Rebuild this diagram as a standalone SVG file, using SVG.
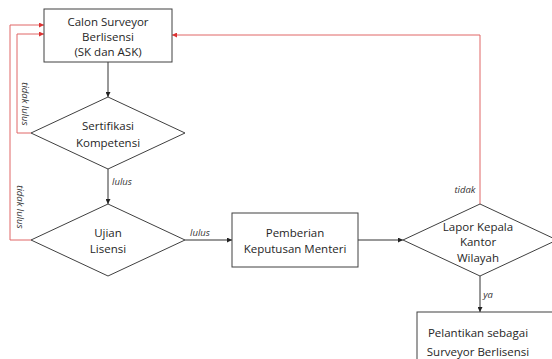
<svg xmlns="http://www.w3.org/2000/svg" width="552" height="359" viewBox="0 0 552 359">
<style>
.box{fill:#fff;stroke:#404040;stroke-width:1}
.t{font-family:"Open Sans","Liberation Sans",sans-serif;font-size:11.5px;fill:#262626;text-anchor:middle}
.l{font-family:"Open Sans","Liberation Sans",sans-serif;font-size:9.5px;font-style:italic;fill:#333}
.k{fill:none;stroke:#333;stroke-width:1}
.r{fill:none;stroke:#e06666;stroke-width:1}
</style>
<defs>
<marker id="ab" viewBox="0 0 6 6" refX="6" refY="3" markerWidth="5" markerHeight="5" orient="auto"><path d="M0,0 L6,3 L0,6 z" fill="#222"/></marker>
<marker id="ar" viewBox="0 0 6 6" refX="6" refY="3" markerWidth="5" markerHeight="5" orient="auto"><path d="M0,0 L6,3 L0,6 z" fill="#d33"/></marker>
</defs>
<g id="connectors">
<path class="k" d="M108,62 V97" marker-end="url(#ab)"/>
<path class="k" d="M108,169 V204" marker-end="url(#ab)"/>
<path class="k" d="M185,240 H232" marker-end="url(#ab)"/>
<path class="k" d="M358,240 H403" marker-end="url(#ab)"/>
<path class="k" d="M480,276 V312" marker-end="url(#ab)"/>
<path class="r" d="M31,133 H17 V34 H44" marker-end="url(#ar)"/>
<path class="r" d="M31,240 H10 V25 H44" marker-end="url(#ar)"/>
<path class="r" d="M480,204 V35 H172" marker-end="url(#ar)"/>
<text class="l" x="122" y="185" text-anchor="middle">lulus</text>
<text class="l" x="200" y="236" text-anchor="middle">lulus</text>
<text class="l" x="465" y="193" text-anchor="middle">tidak</text>
<text class="l" x="488" y="298" text-anchor="middle">ya</text>
<text class="l" transform="translate(22,104) rotate(90)" text-anchor="middle">tidak lulus</text>
<text class="l" transform="translate(17,207) rotate(90)" text-anchor="middle">tidak lulus</text>
</g>
<g id="n1">
<rect class="box" x="44" y="9" width="128" height="53"/>
<text class="t" x="108" y="26">Calon Surveyor</text>
<text class="t" x="108" y="41">Berlisensi</text>
<text class="t" x="108" y="56">(SK dan ASK)</text>
</g>
<g id="n2">
<path class="box" d="M108,97 L185,133 L108,169 L31,133 Z"/>
<text class="t" x="108" y="130">Sertifikasi</text>
<text class="t" x="108" y="147">Kompetensi</text>
</g>
<g id="n3">
<path class="box" d="M108,204 L185,240 L108,276 L31,240 Z"/>
<text class="t" x="108" y="237">Ujian</text>
<text class="t" x="108" y="253">Lisensi</text>
</g>
<g id="n4">
<rect class="box" x="232" y="213" width="126" height="54"/>
<text class="t" x="295" y="237">Pemberian</text>
<text class="t" x="295" y="253">Keputusan Menteri</text>
</g>
<g id="n5">
<path class="box" d="M480,204 L557,240 L480,276 L403,240 Z"/>
<text class="t" x="478" y="231">Lapor Kepala</text>
<text class="t" x="478" y="246">Kantor</text>
<text class="t" x="478" y="262">Wilayah</text>
</g>
<g id="n6">
<rect class="box" x="417" y="312" width="140" height="60"/>
<text class="t" x="478" y="337">Pelantikan sebagai</text>
<text class="t" x="478" y="356">Surveyor Berlisensi</text>
</g>
</svg>
